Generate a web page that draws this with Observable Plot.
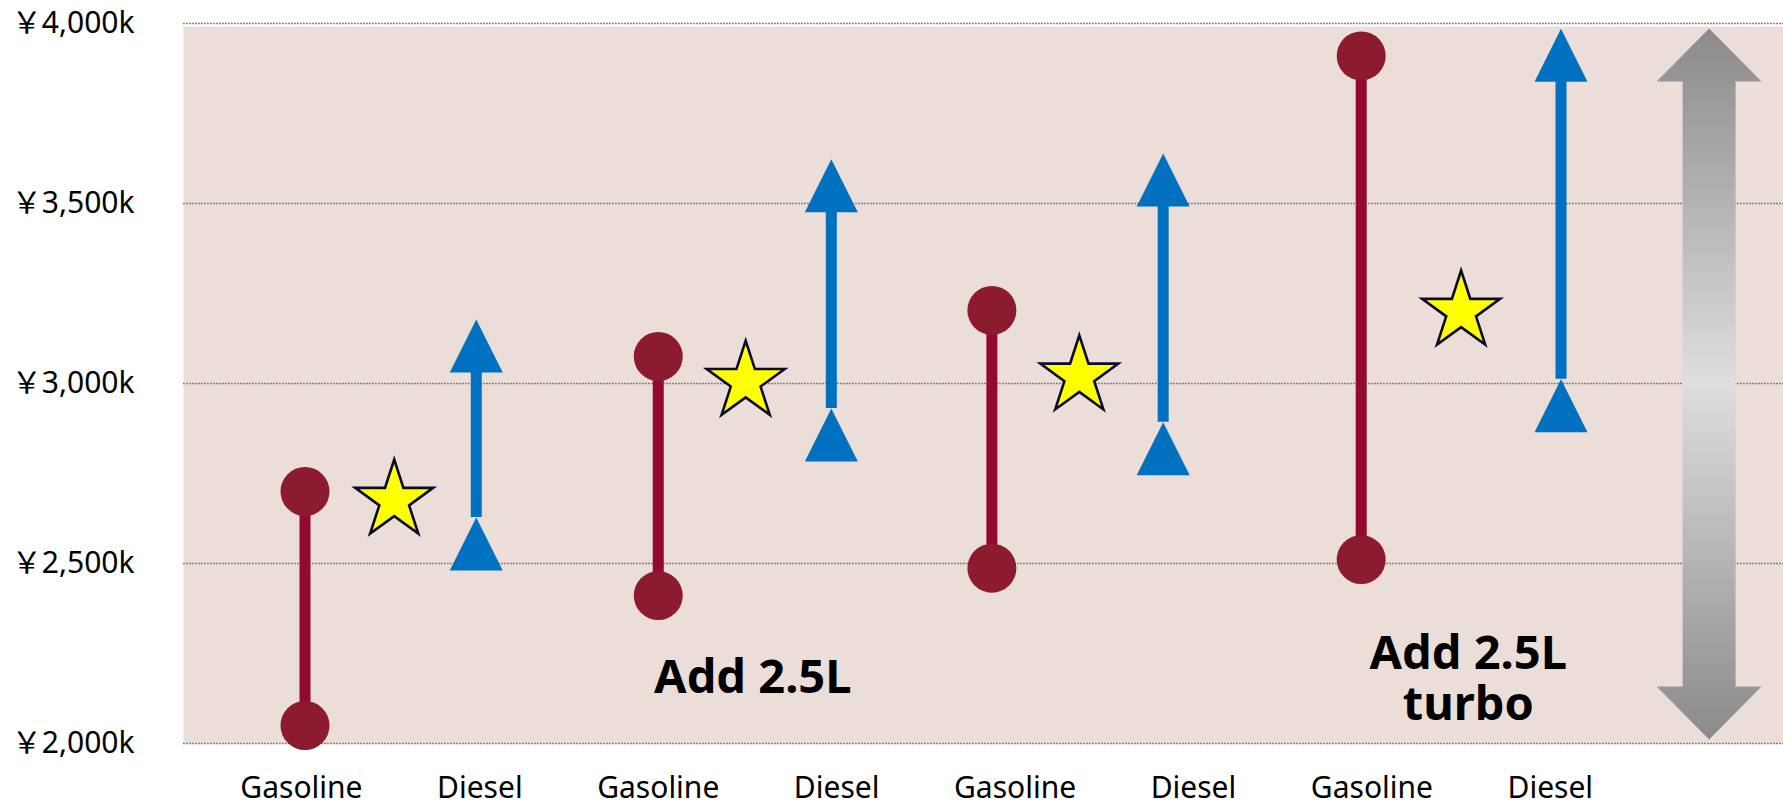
<!DOCTYPE html>
<html>
<head>
<meta charset="utf-8">
<script src="https://cdn.jsdelivr.net/npm/d3@7"></script>
<script src="https://cdn.jsdelivr.net/npm/@observablehq/plot@0.6"></script>
<style>
  html, body { margin: 0; padding: 0; background: #fff; }
  #chart svg { display: block; }
</style>
</head>
<body>
<div id="chart"></div>
<script>
// ---- data ----
const categories = ["Gasoline", "Diesel", "Gasoline", "Diesel", "Gasoline", "Diesel", "Gasoline", "Diesel"];
const markerPos  = [0.02, 0.98, 2.00, 2.97, 3.87, 4.83, 5.94, 7.06];   // horizontal position of each range
const lowValues  = [2050, 2554, 2411, 2857, 2487, 2819, 2511, 2938];   // ¥ thousand
const highValues = [2700, 3104, 3075, 3549, 3203, 3565, 3910, 3912];   // ¥ thousand
const starPos    = [0.52, 2.49, 4.36, 6.50];
const starValues = [2675, 3005, 3020, 3200];
const yTicks     = [2000, 2500, 3000, 3500, 4000];
const arrowPos   = 7.89;
const arrowLow   = 2011;
const arrowHigh  = 3986;
const noteTexts  = ["Add 2.5L", "Add 2.5L\nturbo"];
const notePos    = [2.53, 6.54];
const noteValues = [2187, 2182];

// ---- tables ----
const rows = categories.map((fuel, i) => ({fuel, x: markerPos[i], low: lowValues[i], high: highValues[i]}));
const gas = rows.filter(d => d.fuel === "Gasoline");
const dsl = rows.filter(d => d.fuel === "Diesel");
const stars = starPos.map((x, i) => ({x, y: starValues[i]}));
const notes = noteTexts.map((t, i) => ({text: t, x: notePos[i], y: noteValues[i]}));
const arrow = [{x: arrowPos, low: arrowLow, high: arrowHigh}];

// ---- custom symbols (size = PI r^2) ----
const rad = size => Math.sqrt(size / Math.PI);
const triangle = {draw(ctx, size) { const r = rad(size); ctx.moveTo(0, -r); ctx.lineTo(r, r); ctx.lineTo(-r, r); ctx.closePath(); }};
const star5 = {draw(ctx, size) {
  const R = rad(size), ri = R * 0.382;
  for (let k = 0; k < 10; ++k) {
    const a = -Math.PI / 2 + k * Math.PI / 5, rr = k % 2 ? ri : R;
    const px = rr * Math.cos(a), py = rr * Math.sin(a);
    k ? ctx.lineTo(px, py) : ctx.moveTo(px, py);
  }
  ctx.closePath();
}};
const headUp = {draw(ctx, size) { const h = rad(size); ctx.moveTo(0, 0); ctx.lineTo(h * 0.99, h); ctx.lineTo(-h * 0.99, h); ctx.closePath(); }};
const headDown = {draw(ctx, size) { const h = rad(size); ctx.moveTo(0, 0); ctx.lineTo(h * 0.99, -h); ctx.lineTo(-h * 0.99, -h); ctx.closePath(); }};

const FONT = "'Noto Sans', 'Noto Sans CJK JP', sans-serif";

const plot = Plot.plot({
  width: 1783,
  height: 805,
  marginLeft: 183,
  marginRight: 0,
  marginTop: 23,
  marginBottom: 62,
  style: {fontFamily: FONT, fontSize: "30px", color: "#000", background: "#fff", overflow: "visible"},
  x: {domain: [-0.661, 8.307], ticks: d3.range(categories.length), tickFormat: i => categories[i], tickSize: 0, tickPadding: 33, label: null},
  y: {domain: [2000, 4000], ticks: yTicks, tickFormat: d => "￥" + d3.format(",")(d) + "k", tickSize: 0, tickPadding: 49, label: null},
  marks: [
    Plot.frame({fill: "#EBDED9", stroke: "none", insetTop: 3}),
    Plot.ruleY(yTicks, {stroke: "#7a7a7a", strokeWidth: 1.6, strokeDasharray: "1.8,1.2"}),
    // gray double arrow
    Plot.ruleX(arrow, {x: "x", y1: "high", y2: "low", stroke: "url(#shaftGrad)", strokeWidth: 53, insetTop: 51, insetBottom: 51}),
    Plot.dot(arrow, {x: "x", y: "high", symbol: headUp, r: 53, fill: "url(#headUpGrad)"}),
    Plot.dot(arrow, {x: "x", y: "low", symbol: headDown, r: 53, fill: "url(#headDownGrad)"}),
    // gasoline ranges
    Plot.ruleX(gas, {x: "x", y1: "high", y2: "low", stroke: "#930A30", strokeWidth: 11}),
    Plot.dot(gas, {x: "x", y: "low", r: 24.5, fill: "#8D1B2F"}),
    Plot.dot(gas, {x: "x", y: "high", r: 24.5, fill: "#8D1B2F"}),
    // diesel ranges
    Plot.ruleX(dsl, {x: "x", y1: "high", y2: "low", stroke: "#0070C0", strokeWidth: 11, insetBottom: 26.5}),
    Plot.dot(dsl, {x: "x", y: "low", symbol: triangle, r: 26.5, fill: "#0070C0"}),
    Plot.dot(dsl, {x: "x", y: "high", symbol: triangle, r: 26.5, fill: "#0070C0"}),
    // stars
    Plot.dot(stars, {x: "x", y: "y", symbol: star5, r: 41, fill: "#FFFF00", stroke: "#0B0B2A", strokeWidth: 2.6, strokeLinejoin: "miter"}),
    // notes
    Plot.text(notes, {x: "x", y: "y", text: "text", fontSize: 47, fontWeight: "bold", fontFamily: FONT, fill: "#000", lineAnchor: "middle", lineHeight: 1.087, textAnchor: "middle"})
  ]
});

// gradients for the gray arrow
const ys = plot.scale("y");
const svg = d3.select(plot.tagName.toLowerCase() === "svg" ? plot : plot.querySelector("svg"));
const defs = svg.insert("defs", ":first-child");
const sg = defs.append("linearGradient").attr("id", "shaftGrad").attr("gradientUnits", "userSpaceOnUse")
  .attr("x1", 0).attr("x2", 0).attr("y1", ys.apply(arrowHigh)).attr("y2", ys.apply(arrowLow));
sg.append("stop").attr("offset", 0).attr("stop-color", "#8a8a8a");
sg.append("stop").attr("offset", 0.5).attr("stop-color", "#dedede");
sg.append("stop").attr("offset", 1).attr("stop-color", "#8a8a8a");
const hu = defs.append("linearGradient").attr("id", "headUpGrad").attr("x1", 0).attr("x2", 0).attr("y1", 0).attr("y2", 1);
hu.append("stop").attr("offset", 0).attr("stop-color", "#8a8a8a");
hu.append("stop").attr("offset", 1).attr("stop-color", "#979797");
const hd = defs.append("linearGradient").attr("id", "headDownGrad").attr("x1", 0).attr("x2", 0).attr("y1", 0).attr("y2", 1);
hd.append("stop").attr("offset", 0).attr("stop-color", "#979797");
hd.append("stop").attr("offset", 1).attr("stop-color", "#8a8a8a");

document.getElementById("chart").appendChild(plot);
</script>
</body>
</html>
